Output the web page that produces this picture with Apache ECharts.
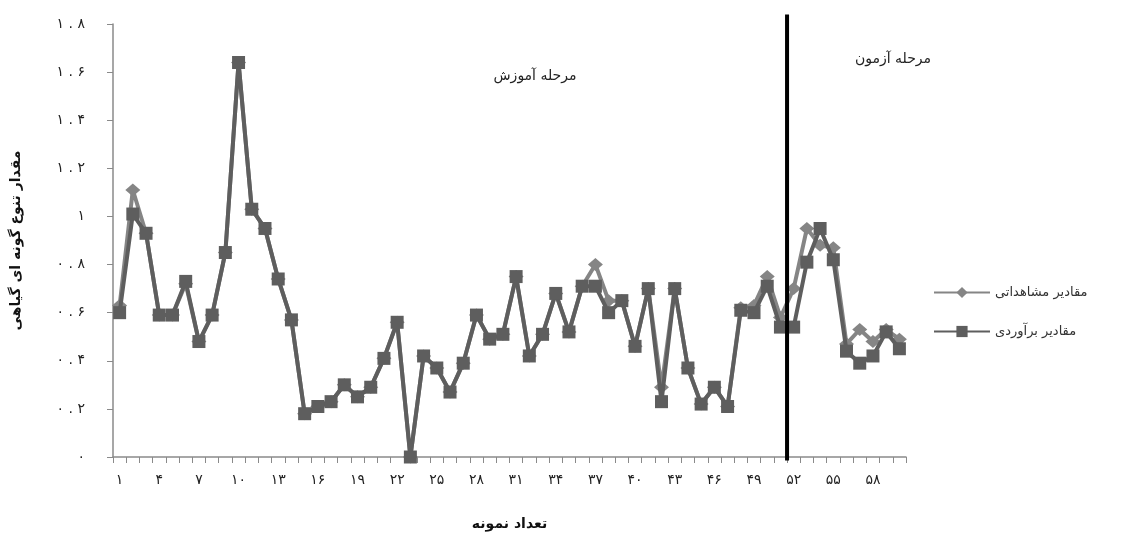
<!DOCTYPE html>
<html>
<head>
<meta charset="utf-8">
<script src="https://cdn.jsdelivr.net/npm/echarts@6/dist/echarts.min.js"></script>
<style>
  html, body { margin: 0; padding: 0; background: #fff; }
  #chart { width: 1122px; height: 536px; }
</style>
</head>
<body>
<div id="chart"></div>
<script>
  // sample numbers 1..60
  const samples = []
  for (let i = 1; i <= 60; i++) samples.push(String(i))

  // observed values (diamonds)
  const observed = [
    0.63, 1.11, 0.93, 0.59, 0.59, 0.72, 0.48, 0.59, 0.85, 1.64,
    1.03, 0.95, 0.74, 0.57, 0.18, 0.21, 0.23, 0.30, 0.25, 0.29,
    0.41, 0.56, 0.00, 0.42, 0.37, 0.27, 0.39, 0.59, 0.49, 0.51,
    0.75, 0.42, 0.51, 0.68, 0.52, 0.71, 0.80, 0.65, 0.65, 0.46,
    0.70, 0.29, 0.70, 0.37, 0.22, 0.29, 0.21, 0.62, 0.63, 0.75,
    0.58, 0.70, 0.95, 0.88, 0.87, 0.47, 0.53, 0.48, 0.53, 0.49
  ]

  // estimated values (squares)
  const estimated = [
    0.60, 1.01, 0.93, 0.59, 0.59, 0.73, 0.48, 0.59, 0.85, 1.64,
    1.03, 0.95, 0.74, 0.57, 0.18, 0.21, 0.23, 0.30, 0.25, 0.29,
    0.41, 0.56, 0.00, 0.42, 0.37, 0.27, 0.39, 0.59, 0.49, 0.51,
    0.75, 0.42, 0.51, 0.68, 0.52, 0.71, 0.71, 0.60, 0.65, 0.46,
    0.70, 0.23, 0.70, 0.37, 0.22, 0.29, 0.21, 0.61, 0.60, 0.71,
    0.54, 0.54, 0.81, 0.95, 0.82, 0.44, 0.39, 0.42, 0.52, 0.45
  ]

  // training / test split after sample 51
  const splitAfter = 51
  const yMin = 0
  const yMax = 1.8
  const yStep = 0.2

  const seriesNames = ['مقادیر مشاهداتی', 'مقادیر برآوردی']
  const font = 'DejaVu Sans'
  const axisGray = '#8a8a8a'

  const faDigits = '۰۱۲۳۴۵۶۷۸۹'
  function toFa(s) {
    return String(s).replace(/[0-9]/g, (d) => faDigits[+d])
  }
  function yLabel(v) {
    let s = String(Math.round(v * 10) / 10)
    let parts = s.split('.')
    if (parts.length === 1) return toFa(parts[0])
    return toFa(parts[0]) + '\u200E . \u200E' + toFa(parts[1])
  }

  let myChart = echarts.init(document.getElementById('chart'))
  let option = {
    animation: false,
    textStyle: { fontFamily: font },
    grid: { left: 113, right: 216, top: 24, bottom: 78 },
    title: [
      {
        text: 'مرحله آموزش', left: 530, top: 64, textAlign: 'center',
        textStyle: { fontFamily: font, fontSize: 14, fontWeight: 'normal', color: '#222' }
      },
      {
        text: 'مرحله آزمون', left: 888, top: 47, textAlign: 'center',
        textStyle: { fontFamily: font, fontSize: 14, fontWeight: 'normal', color: '#222' }
      }
    ],
    legend: {
      data: seriesNames,
      orient: 'vertical',
      left: 928,
      top: 281,
      itemWidth: 56,
      itemHeight: 14,
      itemGap: 26,
      textStyle: { fontFamily: font, fontSize: 13, color: '#333' }
    },
    xAxis: [
      {
        type: 'category',
        data: samples,
        boundaryGap: true,
        position: 'bottom',
        name: 'تعداد نمونه',
        nameLocation: 'middle',
        nameGap: 60,
        nameTextStyle: { fontFamily: font, fontSize: 14, fontWeight: 'bold', color: '#111' },
        axisLine: { show: true, onZero: false, lineStyle: { color: axisGray, width: 1.5 } },
        axisTick: { show: false },
        axisLabel: {
          interval: 2,
          margin: 16,
          fontSize: 14,
          color: '#222',
          formatter: (v) => toFa(v)
        },
        splitLine: { show: false }
      },
      {
        // sample-boundary scale: carries the ticks and the split line
        type: 'value',
        min: 0,
        max: samples.length,
        interval: 1,
        position: 'bottom',
        axisLine: { show: false, onZero: false },
        axisTick: { show: true, length: 6, lineStyle: { color: axisGray, width: 1 } },
        axisLabel: { show: false },
        splitLine: { show: false }
      }
    ],
    yAxis: {
      type: 'value',
      min: yMin,
      max: yMax,
      interval: yStep,
      name: 'مقدار تنوع گونه ای گیاهی',
      nameLocation: 'middle',
      nameRotate: 90,
      nameGap: 90,
      nameTextStyle: { fontFamily: font, fontSize: 14, fontWeight: 'bold', color: '#111' },
      axisLine: { show: true, lineStyle: { color: axisGray, width: 1.5 } },
      axisTick: { show: true, length: 6, lineStyle: { color: axisGray } },
      axisLabel: { margin: 28, fontSize: 14, color: '#222', formatter: yLabel },
      splitLine: { show: false }
    },
    series: [
      {
        name: seriesNames[0],
        type: 'line',
        data: observed,
        symbol: 'diamond',
        symbolSize: [15, 13],
        showAllSymbol: true,
        lineStyle: { color: '#858585', width: 4 },
        itemStyle: { color: '#858585' },
        z: 2
      },
      {
        name: seriesNames[1],
        type: 'line',
        data: estimated,
        symbol: 'rect',
        symbolSize: 13,
        showAllSymbol: true,
        lineStyle: { color: '#5e5e5e', width: 4 },
        itemStyle: { color: '#5e5e5e' },
        z: 3
      },
      {
        name: 'split',
        type: 'line',
        xAxisIndex: 1,
        data: [[splitAfter, yMin - 0.015], [splitAfter, yMax + 0.04]],
        symbol: 'none',
        clip: false,
        lineStyle: { color: '#000', width: 4 },
        z: 4
      }
    ]
  }
  myChart.setOption(option)
</script>
</body>
</html>
